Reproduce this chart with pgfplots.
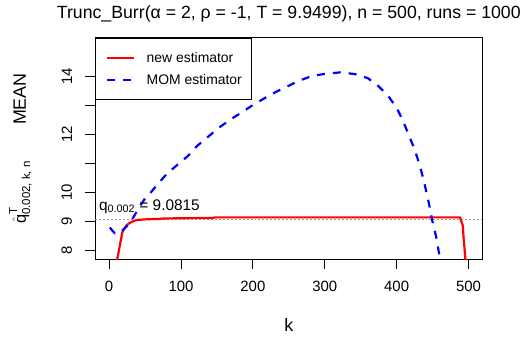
\documentclass[border=0pt]{standalone}
\usepackage{fontspec}
\setmainfont{Liberation Sans}
\usepackage{amsmath}
\usepackage{pgfplots}
\pgfplotsset{compat=1.18}

\definecolor{rred}{RGB}{255,0,0}
\definecolor{rblue}{RGB}{0,0,255}
\definecolor{rgrey}{RGB}{160,160,160}

\begin{document}
\begin{tikzpicture}
\begin{axis}[
  scale only axis,
  width=389pt, height=223pt,
  xmin=-19, xmax=519,
  ymin=7.70, ymax=15.33,
  axis line style={line width=0.8pt},
  tick style={line width=0.8pt, black},
  tick align=outside,
  major tick length=10pt,
  xtick pos=bottom, ytick pos=left,
  xtick={0,100,200,300,400,500},
  ytick={8,9,10,11,12,13,14},
  yticklabels={8,9,10,,12,,14},
  /pgf/number format/assume math mode=true,
  ticklabel style={font=\fontsize{15}{17}\selectfont},
  yticklabel style={rotate=90, anchor=south},
  xticklabel style={anchor=north},
  xticklabel shift=8pt,
  yticklabel shift=10pt,
  title={Trunc\_Burr(α = 2, ρ = -1, T = 9.9499), n = 500, runs = 1000},
  title style={font=\fontsize{17.8}{20}\selectfont, at={(axis description cs:0.5,1.058)}, anchor=base},
  xlabel={k},
  xlabel style={font=\fontsize{18}{20}\selectfont, at={(axis description cs:0.5,-0.327)}, anchor=base},
  ylabel={{\fontsize{16.5}{18}\selectfont$\hat{\text{q}}^{\text{T}}_{\text{0.002, k, n}}$}\qquad MEAN},
  ylabel style={font=\fontsize{18}{20}\selectfont, at={(axis description cs:-0.18,0.5)}, anchor=base, rotate=0},
  legend style={
    at={(axis description cs:0,1)}, anchor=north west,
    draw=black, line width=0.8pt,
    font=\fontsize{14}{16}\selectfont,
    inner xsep=10pt, inner ysep=9pt,
    row sep=0pt, column sep=12pt,
    nodes={inner sep=0pt, minimum height=22pt},
  },
  legend cell align=left,
  legend image code/.code={\draw[#1, line width=2.2pt] (0pt,0pt) -- (27pt,0pt);},
  clip=true,
]
% reference level q_0.002
\addplot[rgrey, line width=0.8pt, dash pattern=on 2pt off 2pt, forget plot]
  coordinates {(-19,9.0815) (519,9.0815)};

% new estimator
\addplot[rred, line width=2.2pt]
  coordinates {
    (10,7.55) (12,7.8) (14,8.05) (15,8.2) (17,8.45) (18,8.6) (20,8.72)
    (22,8.8) (24,8.87) (27,8.93) (31,8.99) (35,9.03) (38,9.06) (45,9.07)
    (50,9.08) (60,9.09) (72,9.10) (74,9.11) (100,9.12) (145,9.13) (147,9.15)
    (200,9.15) (300,9.15) (400,9.15) (488,9.15) (489,9.10) (490,9.0)
    (491,8.95) (492,8.87) (493,8.5) (494,8.2) (495,7.9) (496,7.6)
  };
\addlegendentry{new estimator}

% MOM estimator
\addplot[rblue, line width=2.2pt, dash pattern=on 8pt off 8pt]
  coordinates {
    (1,8.8) (3,8.74) (5,8.68) (8,8.6) (11,8.58) (14,8.6) (17,8.66) (20,8.73)
    (25,8.85) (29,8.97) (35,9.2) (42,9.5) (50,9.8) (57,9.98) (68,10.3)
    (80,10.64) (96,10.98) (110,11.27) (123,11.62) (139,11.95) (153,12.24)
    (169,12.52) (185,12.77) (201,13.03) (217,13.26) (234,13.49) (250,13.68)
    (264,13.85) (283,14.02) (301,14.09) (322,14.14) (342,14.08) (360,13.94)
    (374,13.68) (388,13.34) (400,12.92) (408,12.52) (416,12.04) (424,11.55)
    (431,11.04) (437,10.49) (442,9.96) (446,9.50) (450,8.99) (455,8.48)
    (459,7.91) (462,7.6)
  };
\addlegendentry{MOM estimator}

\node[anchor=base west, inner sep=0pt, font=\fontsize{15.5}{18}\selectfont]
  at (axis cs:-14.2,9.39) {q\textsubscript{0.002} = 9.0815};
\end{axis}
\path[use as bounding box] ([shift={(-96pt,-77pt)}]current axis.south west)
  rectangle ([shift={(39pt,38pt)}]current axis.north east);
\end{tikzpicture}
\end{document}
